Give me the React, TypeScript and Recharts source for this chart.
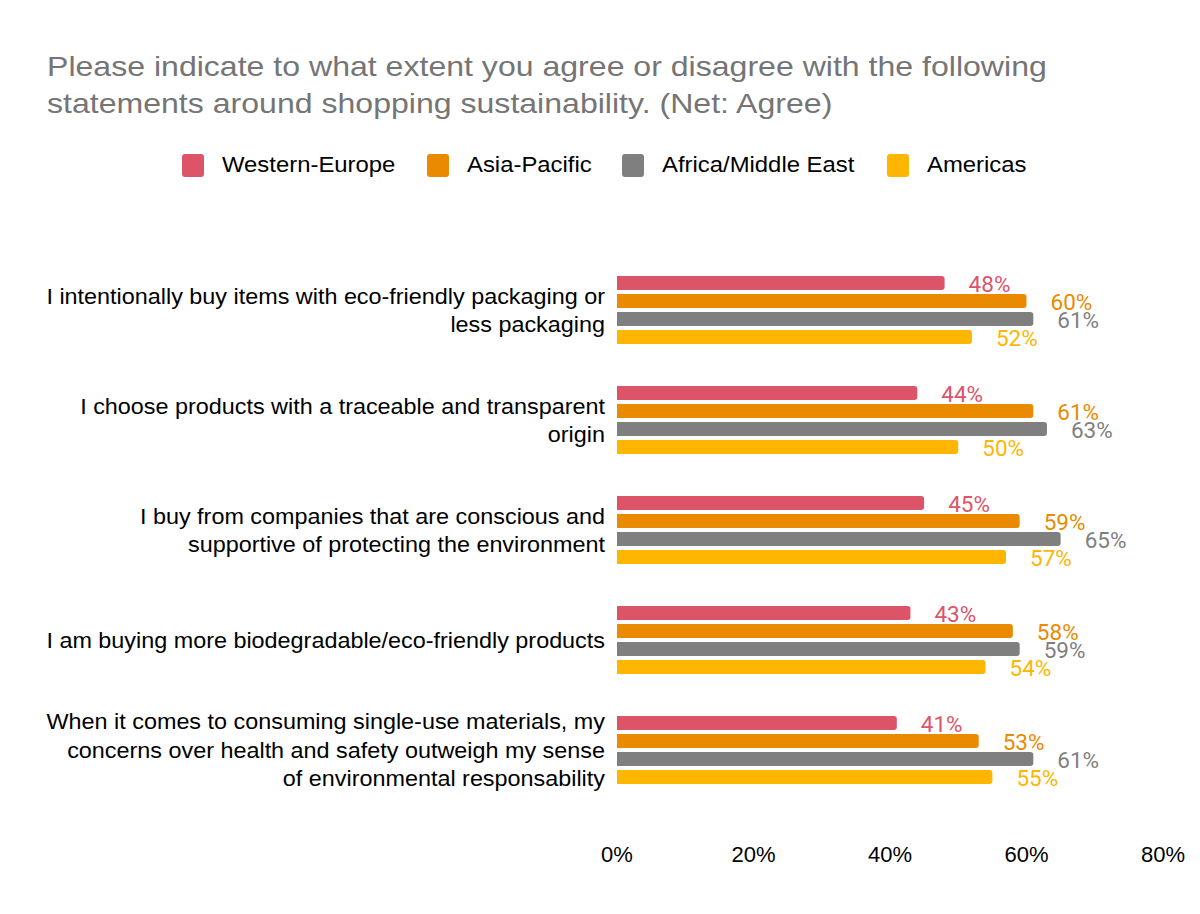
import React from "react";
import { BarChart, Bar, XAxis, YAxis, LabelList } from "recharts";

const categories = [
  ["I intentionally buy items with eco-friendly packaging or", "less packaging"],
  ["I choose products with a traceable and transparent", "origin"],
  ["I buy from companies that are conscious and", "supportive of protecting the environment"],
  ["I am buying more biodegradable/eco-friendly products"],
  [
    "When it comes to consuming single-use materials, my",
    "concerns over health and safety outweigh my sense",
    "of environmental responsability",
  ],
];
const westernEurope = [48, 44, 45, 43, 41];
const asiaPacific = [60, 61, 59, 58, 53];
const africaMiddleEast = [61, 63, 65, 59, 61];
const americas = [52, 50, 57, 54, 55];
const xTicks = [0, 20, 40, 60, 80];

const SERIES = [
  { key: "westernEurope", name: "Western-Europe", color: "#dd5469", left: 182 },
  { key: "asiaPacific", name: "Asia-Pacific", color: "#ea8a00", left: 427 },
  { key: "africaMiddleEast", name: "Africa/Middle East", color: "#7f7f7f", left: 622 },
  { key: "americas", name: "Americas", color: "#ffb600", left: 887 },
];

const data = categories.map((lines, i) => ({
  name: lines.join("\n"),
  westernEurope: westernEurope[i],
  asiaPacific: asiaPacific[i],
  africaMiddleEast: africaMiddleEast[i],
  americas: americas[i],
}));

const FONT = "'Liberation Sans', Arial, sans-serif";

function CategoryTick({ x, y, payload }: any) {
  const lines = String(payload.value).split("\n");
  const lh = 28.5;
  const ax = x - 4;
  const start = y - ((lines.length - 1) * lh) / 2;
  return (
    <text
      x={ax}
      y={start}
      textAnchor="end"
      fontFamily={FONT}
      fontSize={22}
      fill="#000"
      transform={`translate(${ax},0) scale(1.063,1) translate(${-ax},0)`}
    >
      {lines.map((l, i) => (
        <tspan key={i} x={ax} y={start + i * lh} dy="0.36em">
          {l}
        </tspan>
      ))}
    </text>
  );
}

function makeLabel(color: string) {
  return (props: any) => {
    const { x, y, width, height, value } = props;
    return (
      <text
        x={x + width + 24}
        y={y + height / 2 + 1}
        dominantBaseline="central"
        fill={color}
        stroke="#fff"
        strokeWidth={3}
        paintOrder="stroke"
        fontFamily="Roboto, sans-serif"
        fontSize={22.5}
      >
        {value}%
      </text>
    );
  };
}

export default function App() {
  return (
    <div style={{ position: "absolute", left: 0, top: 0, width: 1200, height: 914, background: "#fff", fontFamily: FONT }}>
      <div
        style={{
          position: "absolute",
          left: 47,
          top: 48,
          fontSize: 28,
          lineHeight: "37px",
          color: "#757575",
          whiteSpace: "nowrap",
          transform: "scale(1.145,1)",
          transformOrigin: "left top",
        }}
      >
        Please indicate to what extent you agree or disagree with the following
        <br />
        statements around shopping sustainability. (Net: Agree)
      </div>
      {SERIES.map((s) => (
        <div key={s.key} style={{ position: "absolute", left: s.left, top: 153, height: 24, display: "flex", alignItems: "center" }}>
          <span style={{ width: 22, height: 23, borderRadius: 3, background: s.color, display: "inline-block", marginRight: 18 }} />
          <span
            style={{
              fontSize: 22,
              color: "#000",
              whiteSpace: "nowrap",
              display: "inline-block",
              transform: "scale(1.085,1)",
              transformOrigin: "left center",
            }}
          >
            {s.name}
          </span>
        </div>
      ))}
      <BarChart
        width={1200}
        height={914}
        data={data}
        layout="vertical"
        margin={{ top: 255, right: 37, bottom: 0, left: 0 }}
        barSize={14}
        barGap={4}
      >
        <XAxis
          type="number"
          domain={[0, 80]}
          ticks={xTicks}
          tickFormatter={(v) => `${v}%`}
          axisLine={false}
          tickLine={false}
          height={109}
          tickMargin={35}
          tick={{ fontFamily: FONT, fontSize: 22, fill: "#000" }}
        />
        <YAxis type="category" dataKey="name" width={617} axisLine={false} tickLine={false} tick={<CategoryTick />} />
        {SERIES.map((s) => (
          <Bar key={s.key} dataKey={s.key} name={s.name} fill={s.color} radius={[0, 3, 3, 0]} isAnimationActive={false}>
            <LabelList dataKey={s.key} content={makeLabel(s.color)} />
          </Bar>
        ))}
      </BarChart>
    </div>
  );
}
